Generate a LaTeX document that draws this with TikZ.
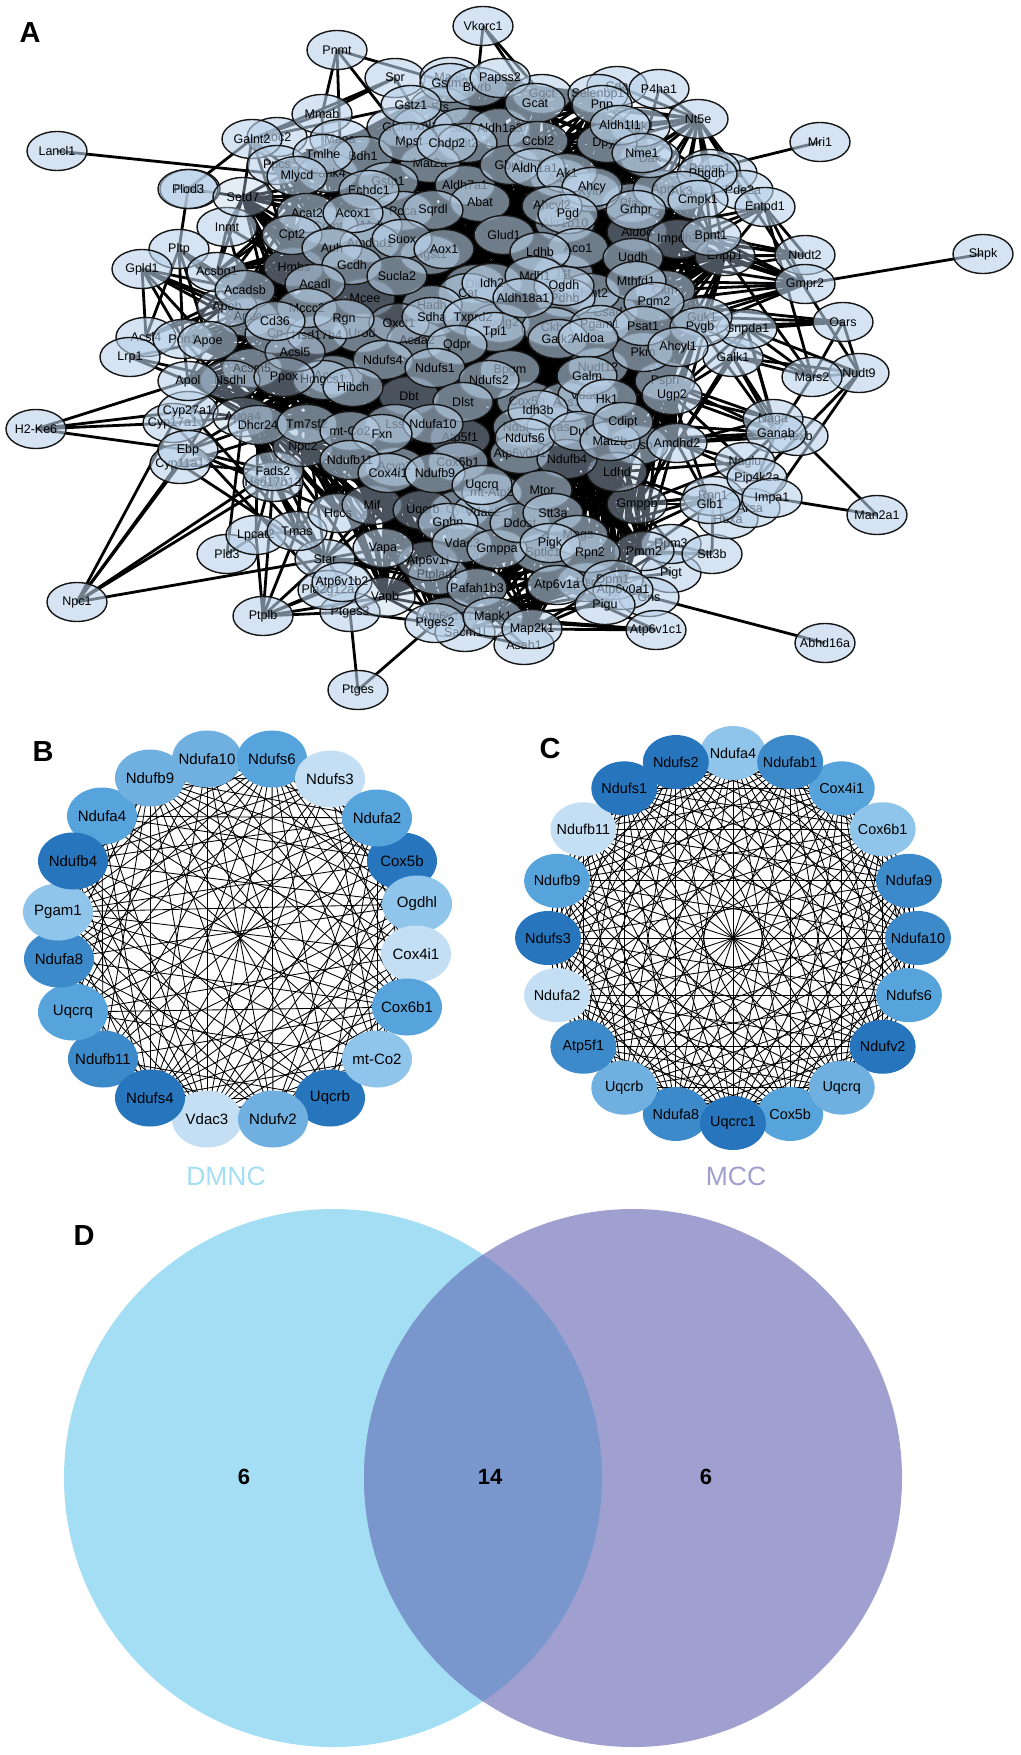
\documentclass[tikz,border=0pt]{standalone}
\usepackage{fontspec}
\setmainfont{Liberation Sans}
\usetikzlibrary{shapes.geometric,backgrounds}
\definecolor{gfill}{HTML}{B9D1E9}
\definecolor{gline}{HTML}{161616}
\definecolor{sA}{HTML}{C4DFF4}
\definecolor{sB}{HTML}{8FC5EB}
\definecolor{sC}{HTML}{6FB0E0}
\definecolor{sD}{HTML}{57A3DB}
\definecolor{sE}{HTML}{3D8ACB}
\definecolor{sF}{HTML}{2675BD}
\definecolor{vL}{HTML}{A4DEF4}
\definecolor{vR}{HTML}{A0A0D0}
\definecolor{vM}{HTML}{7A97CD}
\tikzset{
  gn/.style={ellipse,draw=gline,line width=1.4pt,fill=gfill,fill opacity=.6,text opacity=1,
    minimum width=60pt,minimum height=39pt,inner sep=0pt,font=\fontsize{12.5}{12.5}\selectfont},
  ge/.style={line width=2.8pt,black},
  bn/.style={ellipse,minimum width=70pt,minimum height=57pt,inner sep=0pt,font=\fontsize{15}{15}\selectfont},
  cn/.style={ellipse,minimum width=66pt,minimum height=54pt,inner sep=0pt,font=\fontsize{14.4}{14.4}\selectfont},
  ce/.style={line width=.85pt,black},
  panel/.style={font=\fontsize{29}{29}\selectfont\bfseries,inner sep=0pt},
  captxt/.style={font=\fontsize{26.5}{26.5}\selectfont,inner sep=0pt},
  vnum/.style={font=\fontsize{22}{22}\selectfont\bfseries,inner sep=0pt}
}
\begin{document}
\begin{tikzpicture}[x=1pt,y=-1pt]
\useasboundingbox (0,0) rectangle (1020,1755);
\node[panel] (la) at (30,33) {A};
\node[panel] (lb) at (43,752) {B};
\node[panel] (lc) at (550,749) {C};
\node[panel] (ld) at (84,1236) {D};
% ---------- panel A: outer nodes
\foreach \x/\y/\t [count=\i] in {%
57/151/Lancl1,337/50/Pnmt,483/26/Vkorc1,395/78/Spr,820/142/Mri1,983/254/Shpk,36/429/H2-Ke6,77/602/Npc1,%
358/690/Ptges,825/643/Abhd16a,877/515/Man2a1,859/373/Nudt9,812/377/Mars2,843/322/Oars,805/255/Nudt2,805/284/Gmpr2,%
698/119/Nt5e,617/86/Cda,659/89/P4ha1,190/189/Plod1,188/189/Plod3,227/227/Inmt,179/249/Pltp,142/269/Gpld1,%
146/337/Acsl4,130/357/Lrp1,173/423/Cyp17a1,188/411/Cyp27a1,180/464/Cyp11a1,188/450/Ebp,227/554/Pld3,256/535/Lpcat2,%
263/616/Ptplb,350/612/Ptges3,325/559/Star,297/531/Tmas,328/590/Pla2g12a,342/582/Atp6v1b2,273/482/Hsd17b12,273/471/Fads2,%
338/513/Hccs,671/573/Pigt,671/544/Dpm3,712/554/Stt3b,524/645/Asah1,649/597/Gns,656/630/Atp6v1c1,728/519/Hexa,750/508/Arsa,%
798/436/Hexb,773/419/Naga,776/433/Ganab,745/462/Naglu,713/496/Rpn1,710/504/Glb1,757/478/Pip4k2a,772/498/Impa1,%
733/357/Galk1,747/329/Gnpda1,727/173/Pi4ka,710/169/Papss1,743/190/Pde2a,765/207/Entpd1,277/137/Aoc2,252/139/Galnt2,322/114/Mmab%
}{\node[gn] (\t) at (\x,\y) {\makebox[0pt]{\t}};}
% ---------- panel A: inner nodes
\foreach \x/\y/\t [count=\ii] in {%
450/77/Maob,542/94/Ggct,598/94/Selenbp1,602/105/Pnp,440/107/Sts,397/127/Gclm,423/126/Txnl1,463/128/Sars,500/128/Aldh1a3,340/139/Maoa,%
277/165/Ppcs,328/173/Pank4,467/143/Nit2,363/156/Bdh1,430/163/Mat2a,388/182/Gstp1,403/211/Pcca,372/225/Mvk,328/226/Comt,370/243/Amdhd1,%
430/255/Mgst1,475/284/Dld,468/293/Cat,432/305/Hadh,500/323/Suclg2,252/368/Acsm5,248/317/Apoc,275/334/Cp,362/333/Urod,417/340/Acaa2,%
333/375/Acadvl,323/380/Hmgcs1,632/203/Pfas,565/223/Akr1b10,560/178/Aars,590/192/Xylb,598/367/Nudt12,527/401/Cox5b,523/427/Ndufa9,%
520/454/Atp6v0d1,557/427/Kras,567/402/Ass1,588/395/Vdac1,510/370/Bpgm,563/273/Tst,608/312/Csad,590/293/Shmt2,565/298/Pdhb,665/290/Ckm,%
552/327/Ckb,702/317/Guk1,665/381/Psph,638/445/Gusb,643/352/Pkm,663/190/Aprt,650/158/Dak,640/127/Pgk1,395/467/Acyp1,460/510/Cyc1,%
483/512/Vdac2,492/493/mt-Atp8,438/575/Ptplad1,543/553/Sptlc1,447/617/Atp6v1e1,465/632/Sacm1l,317/335/Hsd17b4,587/582/Hsd,%
294/267/Hmbs,365/298/Mcee,243/197/Setd7,409/396/Dbt,303/447/Npc2,372/505/Mif,423/510/Uqcrb,637/232/Aldoc,678/239/Impdh2,725/256/Enpp1,%
644/551/Pmm2,637/504/Gmppb,617/472/Ldhd,567/459/Ndufb4,428/561/Atp6v1f,385/597/Vapb,295/352/Acsl5,230/380/Nsdhl,284/377/Ppox,460/438/Atp5f1,%
399/323/Oxct1,243/417/Apoa4,227/307/Apob,%
450/83/Gstm3,477/87/Blvrb,500/78/Papss2,535/103/Gcat,411/105/Gstz1,323/154/Tmlhe,409/142/Mpst,447/144/Chdp2,297/176/Mlycd,369/190/Echdc1,%
465/185/Aldh7a1,480/202/Abat,433/210/Sqrdl,307/213/Acat2,353/213/Acox1,402/239/Suox,292/235/Cpt2,332/248/Auh,444/249/Aox1,510/165/Gbe1,%
504/235/Glud1,352/265/Gcdh,397/276/Sucla2,492/283/Idh2,315/284/Acadl,217/272/Acsbg1,245/290/Acadsb,307/308/Mccc2,275/321/Cd36,344/319/Rgn,%
432/317/Sdha,473/317/Txnrd2,495/332/Tpi1,457/345/Qdpr,383/360/Ndufs4,435/368/Ndufs1,489/380/Ndufs2,353/387/Hibch,463/402/Dlst,183/339/Pon1,%
208/341/Apoe,188/381/Apol,258/425/Dhcr24,307/424/Tm7sf2,395/424/Lss,433/424/Ndufa10,350/431/mt-Co2,382/434/Fxn,350/460/Ndufb11,458/462/Cox6b1,%
388/473/Cox4i1,435/473/Ndufb9,482/485/Uqcrq,383/548/Vapa,448/523/Gphn,462/543/Vdac3,497/549/Gmppa,520/523/Ddost,542/490/Mtor,553/513/Stt3a,%
578/535/Mogs,550/543/Pigk,590/553/Rpn2,477/588/Pafah1b3,435/623/Ptges2,493/617/Mapk1,532/629/Map2k1,557/585/Atp6v1a,613/580/Dpm1,623/590/Atp6v0a1,%
605/605/Pigu,538/141/Ccbl2,607/143/Dpyd,620/125/Aldh1l1,642/153/Nme1,535/168/Aldh1a1,567/173/Ak1,707/174/Phgdh,682/191/Ak3,698/200/Cmpk1,%
592/187/Ahcy,552/206/Ahcyl2,568/214/Pgd,636/210/Grhpr,711/236/Bpnt1,578/248/Aco1,540/252/Ldhb,633/258/Ugdh,636/281/Mthfd1,535/276/Mdh1,%
564/286/Ogdh,523/298/Aldh18a1,654/302/Pgm2,600/325/Pgam1,643/326/Psat1,700/327/Pygb,558/339/Galk2,588/338/Aldoa,678/347/Ahcyl1,587/376/Galm,%
607/399/Hk1,672/395/Ugp2,538/410/Idh3b,525/438/Ndufs6,579/431/Dut,610/441/Mat2b,623/422/Cdipt,677/443/Amdhd2%
}{%
  \pgfmathsetmacro\fo{(\ii>67 && \ii<91) ? .4 : .6}
  \node[gn,fill opacity=\fo,text opacity=1,alias=m\ii] (\t) at (\x,\y) {\makebox[0pt]{\t}};\xdef\Nin{\ii}}
\begin{pgfonlayer}{background}
\foreach \k in {1,2,3,5,8,13,21,34,55,89}{
  \foreach \i in {1,...,\Nin}{
    \pgfmathtruncatemacro\jj{mod(\i-1+\k,\Nin)+1}
    \draw[ge] (m\i.center) -- (m\jj.center);
  }
}
\foreach \a/\b in {%
Lancl1/Mlycd,Pnmt/Gstm3,Pnmt/Maoa,Pnmt/Gclm,Pnmt/Mmab,Vkorc1/Blvrb,Vkorc1/Ggct,Vkorc1/Gcat,%
Spr/Galnt2,Spr/Mmab,Spr/Gstz1,Gstz1/Galnt2,Mmab/Galnt2,Mmab/Tmlhe,Galnt2/Setd7,Galnt2/Plod3,Galnt2/Mlycd,Galnt2/Acat2,Galnt2/Hmbs,%
Plod3/Pltp,Plod1/Setd7,Setd7/Acat2,Setd7/Cpt2,Setd7/Hmbs,Setd7/Acsbg1,Setd7/Inmt,Setd7/Auh,Inmt/Acsbg1,Inmt/Acadsb,Inmt/Hmbs,%
Pltp/Acsl4,Pltp/Apoe,Pltp/Pon1,Pltp/Acadsb,Pltp/Apoc,Pltp/Cd36,Gpld1/Acsl4,Gpld1/Pon1,Gpld1/Apoe,Gpld1/Apoc,Gpld1/Acadsb,Gpld1/Cd36,Gpld1/Acsl5,%
Acsl4/Acadsb,Acsl4/Apob,Lrp1/Apol,Lrp1/Nsdhl,Lrp1/Apoe,%
H2-Ke6/Apol,H2-Ke6/Cyp27a1,H2-Ke6/Cyp17a1,H2-Ke6/Ebp,Npc1/Ebp,Npc1/Cyp17a1,Npc1/Cyp11a1,Npc1/Hsd17b12,Npc1/Star,Npc1/Fads2,%
Pld3/Apoa4,Pld3/Lpcat2,Lpcat2/Dhcr24,Lpcat2/Fads2,Lpcat2/Tmas,Cyp17a1/Pla2g12a,Cyp11a1/Star,Cyp27a1/Tmas,Ebp/Hccs,Cyp11a1/Fads2,Ebp/Fads2,Ebp/Dhcr24,%
Cyp27a1/Nsdhl,Cyp27a1/Apoa4,Cyp17a1/Apoa4,Ebp/Apoa4,Ebp/Nsdhl,Cyp11a1/Tm7sf2,%
Dhcr24/Tmas,Tm7sf2/Tmas,Tm7sf2/Hccs,Npc2/Hccs,Npc2/Fads2,Ndufb11/Hccs,Ndufb11/Tmas,Ndufb11/Mif,Tm7sf2/Fads2,mt-Co2/Mif,Dhcr24/Hsd17b12,Apoa4/Hsd17b12,%
Apoa4/Fads2,Apoa4/Tmas,Nsdhl/Fads2,Nsdhl/Tmas,Fxn/Mif,Cox4i1/Vapa,Ndufb9/Vapa,Ndufb9/Star,Mif/Star,Hccs/Star,Tmas/Star,Hsd17b12/Star,Hsd17b12/Ptplb,Hsd17b12/Atp6v1b2,%
Ppox/Hccs,Ppox/Fads2,Dhcr24/Hccs,Npc2/Mif,Dhcr24/Star,Tm7sf2/Star,Npc2/Tmas,Nsdhl/Hccs,Acsl5/Fads2,%
Ptplb/Tmas,Ptplb/Star,Ptplb/Atp6v1b2,Ptplb/Pla2g12a,Ptplb/Ptges3,Ptplb/Lpcat2,Ptplb/Vapb,Ptges/Ptges3,Ptges/Ptges2,Ptges3/Ptges2,Ptges3/Vapb,%
Vapa/Star,Vapa/Atp6v1f,Vapb/Atp6v1f,Vapb/Mapk1,Vapb/Ptges2,Star/Atp6v1f,Star/Ptplad1,Star/Pafah1b3,Ptges2/Pafah1b3,%
Nt5e/Nme1,Nt5e/Dpyd,Nt5e/Aldh1l1,Nt5e/Dak,Nt5e/Ccbl2,Nt5e/Ahcy,Nt5e/Grhpr,Nt5e/Pnp,Nt5e/Cda,Nt5e/P4ha1,Nt5e/Ak3,Nt5e/Papss1,Nt5e/Aldoc,Nt5e/Impdh2,Nt5e/Gcat,%
Nt5e/Entpd1,Nt5e/Nudt9,Nt5e/Enpp1,Nt5e/Pde2a,Nt5e/Bpnt1,Cda/Pnp,P4ha1/Nme1,Mri1/Papss1,Shpk/Gmpr2,%
Nudt2/Enpp1,Nudt2/Bpnt1,Nudt2/Impdh2,Nudt2/Entpd1,Nudt2/Mthfd1,Nudt2/Aldoc,Nudt2/Ugdh,%
Gmpr2/Enpp1,Gmpr2/Bpnt1,Gmpr2/Impdh2,Gmpr2/Aldoc,Gmpr2/Mthfd1,Gmpr2/Pgm2,Gmpr2/Ckm,Gmpr2/Ugdh,Gmpr2/Pygb,Gmpr2/Psat1,Gmpr2/Guk1,Gmpr2/Grhpr,Gmpr2/Entpd1,%
Oars/Guk1,Oars/Pygb,Oars/Gnpda1,Oars/Pgm2,Oars/Nudt9,Oars/Mars2,Entpd1/Bpnt1,Entpd1/Enpp1,Entpd1/Impdh2,Entpd1/Mars2,Entpd1/Aldoc,%
Enpp1/Psat1,Enpp1/Pgm2,Enpp1/Pygb,Enpp1/Ckm,Bpnt1/Pgm2,Bpnt1/Ckm,Impdh2/Pygb,Enpp1/Guk1,%
Mars2/Galk1,Mars2/Gnpda1,Mars2/Pygb,Mars2/Ganab,Mars2/Nudt9,Mars2/Enpp1,Nudt9/Galk1,Nudt9/Pip4k2a,Nudt9/Gnpda1,Nudt9/Impa1,%
Galk1/Ugp2,Galk1/Amdhd2,Galk1/Naga,Galk1/Ganab,Gnpda1/Naga,Gnpda1/Ganab,Gnpda1/Amdhd2,Gnpda1/Ugp2,Pygb/Ganab,Pygb/Ugp2,Psph/Ganab,Psph/Naga,Ugp2/Naga,Ugp2/Ganab,%
Ugp2/Amdhd2,Amdhd2/Ganab,Amdhd2/Naga,Amdhd2/Hexb,Cdipt/Ganab,Mat2b/Ganab,Ahcyl1/Ugp2,Hk1/Ugp2,Amdhd2/Naglu,Ugp2/Naglu,Amdhd2/Pip4k2a,Amdhd2/Glb1,Amdhd2/Gmppb,%
Ldhd/Naglu,Gmppb/Naglu,Gmppb/Rpn1,Gmppb/Glb1,Hexb/Man2a1,Impa1/Man2a1,Hexa/Arsa,Ganab/Naglu,Ganab/Pip4k2a,Hexb/Pip4k2a,%
Ldhd/Glb1,Ugp2/Glb1,Ugp2/Gmppb,Galk1/Gmppb,Psph/Gmppb,Cdipt/Ugp2,Gmppb/Dpm3,Glb1/Pmm2,Rpn1/Mogs,Rpn1/Stt3a,Rpn1/Rpn2,Stt3b/Rpn1,Stt3b/Pmm2,Stt3b/Rpn2,Stt3b/Dpm3,%
Dpm3/Dpm1,Pigt/Dpm1,Pigt/Pmm2,Dpm3/Pmm2,Dpm3/Mogs,Gns/Dpm1,Gns/Atp6v0a1,Atp6v0a1/Abhd16a,%
Atp6v1c1/Atp6v1a,Atp6v1c1/Map2k1,Atp6v1c1/Mapk1,Atp6v1c1/Atp6v1e1,Asah1/Mapk1,Asah1/Sacm1l%
}{\draw[ge] (\a.center) -- (\b.center);}
\end{pgfonlayer}
% ---------- panel B
\foreach \x/\y/\t/\c [count=\i] in {%
207/759/Ndufa10/sC,272/759/Ndufs6/sD,330/779/Ndufs3/sA,402/861/Cox5b/sF,377/818/Ndufa2/sD,417/904/Ogdhl/sB,416/954/Cox4i1/sA,407/1007/Cox6b1/sD,%
330/1098/Uqcrb/sF,377/1059/mt-Co2/sB,207/1119/Vdac3/sA,273/1119/Ndufv2/sC,103/1059/Ndufb11/sE,150/1098/Ndufs4/sF,73/1012/Uqcrq/sD,59/959/Ndufa8/sE,%
58/912/Pgam1/sB,102/816/Ndufa4/sD,73/861/Ndufb4/sF,150/778/Ndufb9/sC%
}{\node[bn,fill=\c,alias=bb\i] (b\t) at (\x,\y) {\makebox[0pt]{\t}};}
\begin{pgfonlayer}{background}
\foreach \i in {1,...,19}{
  \pgfmathtruncatemacro\nxt{\i+1}
  \foreach \j in {\nxt,...,20}{
    \pgfmathtruncatemacro\resid{mod(\i*\j+\i+\j,3)}
    \ifnum\resid>0 \draw[ce] (bb\i.center) -- (bb\j.center);\fi
  }
}
\end{pgfonlayer}
\node[captxt,text=vL] (capb) at (226,1176) {DMNC};
% ---------- panel C
\foreach \a/\t/\c [count=\i] in {%
90/Ndufa4/sB,54/Cox4i1/sD,72/Ndufab1/sE,36/Cox6b1/sB,18/Ndufa9/sE,0/Ndufa10/sE,-18/Ndufs6/sD,-36/Ndufv2/sF,-72/Cox5b/sD,-54/Uqcrq/sC,%
-108/Ndufa8/sE,-90/Uqcrc1/sF,-126/Uqcrb/sC,-144/Atp5f1/sE,-162/Ndufa2/sA,180/Ndufs3/sF,162/Ndufb9/sD,144/Ndufb11/sA,126/Ndufs1/sF,108/Ndufs2/sF%
}{
  \pgfmathsetmacro\px{733+185*cos(\a)}
  \pgfmathsetmacro\py{938-185*sin(\a)}
  \node[cn,fill=\c,alias=cc\i] (c\t) at (\px,\py) {\makebox[0pt]{\t}};
}
\begin{pgfonlayer}{background}
\foreach \i in {1,...,19}{
  \pgfmathtruncatemacro\nxt{\i+1}
  \foreach \j in {\nxt,...,20}{
    \draw[ce] (cc\i.center) -- (cc\j.center);
  }
}
\end{pgfonlayer}
\node[captxt,text=vR] (capc) at (736,1176) {MCC};
% ---------- panel D
\fill[vL] (333,1478) circle[radius=269pt];
\fill[vR] (633,1478) circle[radius=269pt];
\begin{scope}
\clip (333,1478) circle[radius=269pt];
\fill[vM] (633,1478) circle[radius=269pt];
\end{scope}
\node[vnum] (v1) at (244,1477) {6};
\node[vnum] (v2) at (490,1477) {14};
\node[vnum] (v3) at (706,1477) {6};
\end{tikzpicture}
\end{document}
